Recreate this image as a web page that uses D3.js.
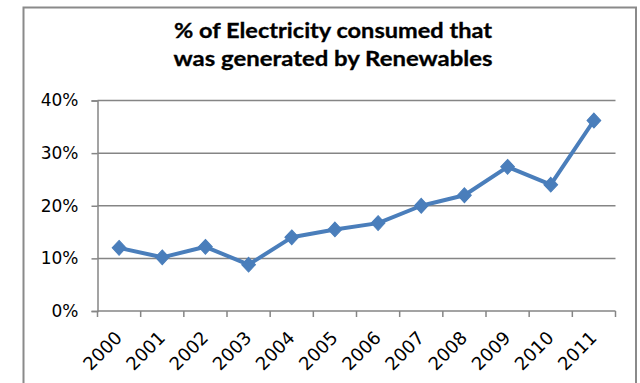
<!DOCTYPE html>
<html>
<head>
<meta charset="utf-8">
<script src="https://cdn.jsdelivr.net/npm/d3@7"></script>
<style>
  html, body { margin: 0; padding: 0; background: #fff; }
  svg { display: block; }
</style>
</head>
<body>
<svg id="chart" width="640" height="383"></svg>
<script>
const titleLines = ["% of Electricity consumed that", "was generated by Renewables"];
const years = ["2000","2001","2002","2003","2004","2005","2006","2007","2008","2009","2010","2011"];
const renewableShare = [0.120, 0.102, 0.122, 0.088, 0.140, 0.155, 0.167, 0.200, 0.220, 0.274, 0.240, 0.362];
const yTicks = [0, 0.1, 0.2, 0.3, 0.4];

const svg = d3.select("#chart");
const W = 640, H = 383;
const margin = { left: 97.5, right: 640 - 615.5, top: 100.5, bottom: 383 - 311 };

const gridColor = "#858585";
const lineColor = "#4A7EBB";

// outer chart frame
svg.append("rect")
  .attr("x", 23.5).attr("y", 7.5)
  .attr("width", 636 - 23.5).attr("height", 420)
  .attr("fill", "#fff")
  .attr("stroke", "#8a8a8a").attr("stroke-width", 2);

// title
const title = svg.append("g");
title.selectAll("text").data(titleLines).enter().append("text")
  .attr("x", 333).attr("y", (d, i) => 37.5 + i * 28.5)
  .attr("text-anchor", "middle")
  .attr("font-family", "Lato, 'Open Sans', sans-serif")
  .attr("font-weight", "bold")
  .attr("font-size", 20.5)
  .attr("fill", "#000")
  .attr("stroke", "#000").attr("stroke-width", 0.3)
  .attr("textLength", (d, i) => i === 0 ? 318 : 319)
  .attr("lengthAdjust", "spacingAndGlyphs")
  .text(d => d);

const x = d3.scaleBand().domain(years).range([margin.left, W - margin.right]).paddingInner(0).paddingOuter(0);
const y = d3.scaleLinear().domain([0, 0.4]).range([H - margin.bottom, margin.top]);

// gridlines
svg.append("g")
  .selectAll("line").data(yTicks.slice(1)).enter().append("line")
  .attr("x1", margin.left).attr("x2", W - margin.right)
  .attr("y1", d => y(d)).attr("y2", d => y(d))
  .attr("stroke", gridColor).attr("stroke-width", 1.5);

// y axis
const yAxis = d3.axisLeft(y).tickValues(yTicks).tickFormat(d3.format(".0%")).tickSize(6).tickPadding(13);
const gy = svg.append("g").attr("transform", `translate(${margin.left},0)`).call(yAxis);
gy.select(".domain").attr("stroke", gridColor).attr("stroke-width", 1.5);
gy.selectAll(".tick line").attr("stroke", gridColor).attr("stroke-width", 1.5);
gy.selectAll(".tick text")
  .attr("font-family", "'DejaVu Sans', sans-serif")
  .attr("font-size", 17).attr("fill", "#000");

// x axis: ticks at band boundaries
const gx = svg.append("g").attr("transform", `translate(0,${y(0)})`);
gx.append("line")
  .attr("x1", margin.left).attr("x2", W - margin.right)
  .attr("stroke", gridColor).attr("stroke-width", 1.5);
const boundaries = years.map(d => x(d)).concat([x(years[years.length - 1]) + x.bandwidth()]);
gx.selectAll("line.tk").data(boundaries).enter().append("line")
  .attr("class", "tk")
  .attr("x1", d => d).attr("x2", d => d)
  .attr("y1", 0).attr("y2", 6)
  .attr("stroke", gridColor).attr("stroke-width", 1.5);
gx.selectAll("text").data(years).enter().append("text")
  .attr("transform", d => `translate(${x(d) + x.bandwidth() / 2 + 4},${28}) rotate(-45)`)
  .attr("text-anchor", "end")
  .attr("font-family", "'DejaVu Sans', sans-serif")
  .attr("font-size", 18).attr("fill", "#000")
  .text(d => d);

// line
const pts = years.map((d, i) => ({ year: d, v: renewableShare[i] }));
const line = d3.line().x(d => x(d.year) + x.bandwidth() / 2).y(d => y(d.v));
svg.append("path").datum(pts)
  .attr("d", line)
  .attr("fill", "none")
  .attr("stroke", lineColor).attr("stroke-width", 4)
  .attr("stroke-linejoin", "round");

// diamond markers
const diamond = d3.symbol().type(d3.symbolDiamond2).size(120);
svg.append("g").selectAll("path").data(pts).enter().append("path")
  .attr("d", diamond)
  .attr("transform", d => `translate(${x(d.year) + x.bandwidth() / 2},${y(d.v)}) scale(1,1.08)`)
  .attr("fill", lineColor)
  .attr("stroke", lineColor).attr("stroke-width", 1);
</script>
</body>
</html>
